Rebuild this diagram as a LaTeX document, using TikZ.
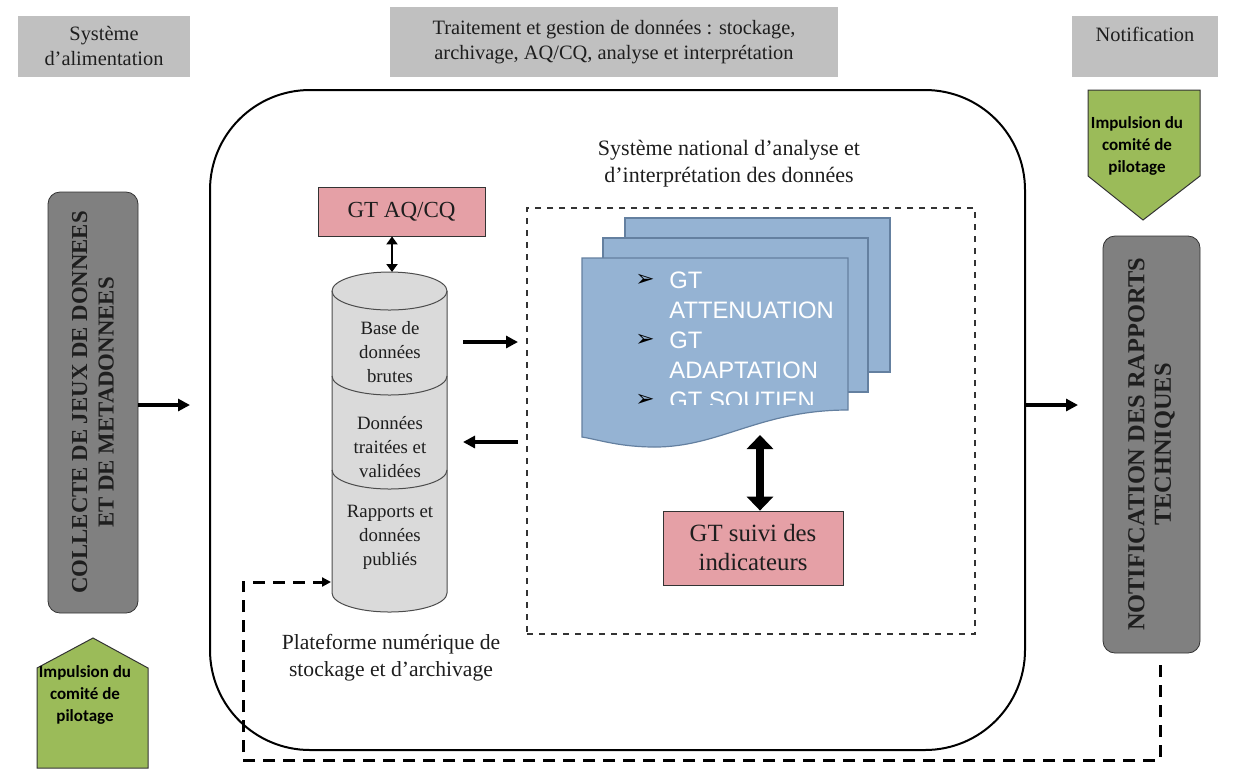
\documentclass[tikz,border=0pt]{standalone}
\usepackage{fontspec}
\setmainfont{Liberation Serif}
\newfontfamily\calibrifont{Carlito}
\newfontfamily\arialfont{Liberation Sans}
\newfontfamily\symbfont{DejaVu Sans}
\usetikzlibrary{arrows.meta}

\definecolor{headgray}{RGB}{192,192,192}
\definecolor{boxgray}{RGB}{128,128,128}
\definecolor{gtpink}{RGB}{229,160,166}
\definecolor{docblue}{RGB}{149,179,211}
\definecolor{docline}{RGB}{100,128,160}
\definecolor{pilotgreen}{RGB}{155,187,89}
\definecolor{cylgray}{RGB}{218,218,218}
\definecolor{inkgray}{RGB}{30,30,30}

\begin{document}
\begin{tikzpicture}[x=0.5pt,y=-0.5pt]
    \tikzset{header/.style = {fill=headgray, inner sep=0pt, align=center, text=inkgray, font=\fontsize{10.2}{12.5}\selectfont}}
    \tikzset{procbox/.style = {draw=black!80, fill=boxgray, rounded corners=6pt, rotate=90, align=center, inner sep=0pt, text=inkgray, font=\bfseries\fontsize{11.4}{13.2}\selectfont}}
    \tikzset{gtbox/.style = {draw=black!80, fill=gtpink, inner sep=0pt, align=center, text=inkgray, font=\fontsize{11.5}{14.5}\selectfont}}
    \tikzset{pilot/.style = {draw=black!80, fill=pilotgreen, line width=0.5pt}}
    \tikzset{pilottext/.style = {align=center, inner sep=0pt, font=\calibrifont\bfseries\fontsize{8.5}{10.9}\selectfont}}
    \tikzset{cyltext/.style = {align=center, inner sep=0pt, text=inkgray, font=\fontsize{9.4}{12}\selectfont}}
    \tikzset{docsheet/.style = {draw=docline, fill=docblue, line width=0.6pt}}
    \tikzset{bulletmark/.style = {inner sep=0pt, font=\symbfont\fontsize{11.5}{11.5}\selectfont}}
    \tikzset{edge/.style = {-{Triangle[length=6pt,width=6pt]}, line width=1.6pt}}
    \tikzset{dbl/.style = {{Triangle[length=4pt,width=5.5pt]}-{Triangle[length=4pt,width=5.5pt]}, line width=1.4pt}}
    \tikzset{bigdbl/.style = {{Triangle[length=7pt,width=13pt]}-{Triangle[length=7pt,width=13pt]}, line width=4pt}}
    \tikzset{dashret/.style = {-{Triangle[length=4.5pt,width=4.5pt]}, line width=1.5pt, dash pattern=on 6pt off 4pt}}

    \useasboundingbox (0,0) rectangle (1236,783);

    % bandeaux du haut
    \node[header, minimum width=86pt, minimum height=30.5pt] (alim) at (104,46.5) {Système\\d’alimentation};
    \node[header, minimum width=224pt, minimum height=35pt] (traitement) at (614,42) {Traitement et gestion de données : stockage,\\archivage, AQ/CQ, analyse et interprétation};
    \node[header, minimum width=73pt, minimum height=30.5pt] (notifhead) at (1145,46.5) {Notification\\\mbox{}};

    % plateforme centrale
    \node[draw, line width=1pt, rounded corners=50pt, minimum width=407.5pt, minimum height=330pt] (plateforme) at (617.5,420) {};

    % boites laterales
    \node[procbox, minimum width=210.5pt, minimum height=45pt] (collecte) at (93,402.5) {COLLECTE DE JEUX DE DONNEES\\ET DE METADONNEES};
    \node[procbox, font=\bfseries\fontsize{12.2}{13.2}\selectfont, minimum width=208.5pt, minimum height=48.5pt] (notif) at (1151.5,444.5) {NOTIFICATION DES RAPPORTS\\TECHNIQUES};

    % impulsions du comite
    \draw[pilot] (37,668) -- (93,638) -- (148,668) -- (148,768) -- (37,768) -- cycle;
    \node[pilottext] (pilotL) at (85,695) {Impulsion du\\comité de\\pilotage};
    \draw[pilot] (1088,90) -- (1200,90) -- (1200,176) -- (1143,220) -- (1088,176) -- cycle;
    \node[pilottext] (pilotR) at (1137,146) {Impulsion du\\comité de\\pilotage};

    % base de donnees
    \filldraw[fill=cylgray, draw=black!70, line width=0.5pt] (332,291) -- (332,593) arc (180:0:57.5 and 19) -- (447,291) arc (0:-180:57.5 and 19) -- cycle;
    \draw[black!70, line width=0.5pt] (332,291) arc (180:0:57.5 and 19);
    \draw[black!70, line width=0.5pt] (332,376) arc (180:0:57.5 and 19);
    \draw[black!70, line width=0.5pt] (332,470) arc (180:0:57.5 and 19);
    \node[cyltext] (brutes) at (390,352) {Base de\\données\\brutes};
    \node[cyltext] (validees) at (390,447) {Données\\traitées et\\validées};
    \node[cyltext] (publies) at (390,537) {Rapports et\\données\\publiés};
    \node[align=center, inner sep=0pt, text=inkgray, font=\fontsize{10.8}{13.5}\selectfont] (stockage) at (391,658) {Plateforme numérique de\\stockage et d’archivage};

    \node[gtbox, minimum width=83.5pt, minimum height=24.5pt] (aqcq) at (401.5,211.5) {GT AQ/CQ};

    % systeme national
    \node[draw=black!80, dashed, line width=0.7pt, minimum width=224pt, minimum height=213pt] (sna) at (751,421) {};
    \node[align=center, inner sep=0pt, text=inkgray, font=\fontsize{11}{13.5}\selectfont] (snatitle) at (729,164) {Système national d’analyse et\\d’interprétation des données};

    \filldraw[docsheet] (625,218) rectangle (890,372);
    \filldraw[docsheet] (603,238) rectangle (868,392);
    \filldraw[docsheet] (582,258) -- (848,258) -- (848,410) .. controls (760,410) and (720,447) .. (655,447) .. controls (620,447) and (600,440) .. (582,437) -- cycle;
    \begin{scope}
      \clip (582,258) rectangle (848,404);
      \node[anchor=north west, align=left, inner sep=0pt, text=white, font=\arialfont\fontsize{11.9}{15}\selectfont] (gtlist) at (669,271) {GT\\ATTENUATION\\GT\\ADAPTATION\\GT SOUTIEN};
      \foreach \y in {280,340,400}
        \node[bulletmark] (bullet\y) at (645,\y) {➢};
    \end{scope}

    \node[gtbox, font=\fontsize{12.4}{14.5}\selectfont, minimum width=90pt, minimum height=37pt] (suivi) at (753,548) {GT suivi des\\indicateurs};

    % liaisons
    \coordinate (collin) at (190,405);
    \coordinate (notifin) at (1078,405);
    \coordinate (cyltop) at (392,272);
    \coordinate (brutesout) at (463,342);
    \coordinate (snain) at (518,342);
    \coordinate (snaout) at (518,442);
    \coordinate (valideesin) at (463,442);
    \coordinate (docbot) at (760,435);
    \coordinate (retstart) at (1160,665);
    \coordinate (retcorner) at (243,760);
    \coordinate (cylin) at (331,582);

    \draw[edge] (collecte.south |- collin) -- (collin);
    \draw[edge] (plateforme.east |- notifin) -- (notifin);
    \draw[edge] (brutesout) -- (snain);
    \draw[edge] (snaout) -- (valideesin);
    \draw[dbl] (aqcq.south -| cyltop) -- (cyltop);
    \draw[bigdbl] (docbot) -- (suivi.north -| docbot);
    \draw[dashret] (retstart) |- (retcorner) |- (cylin);
\end{tikzpicture}
\end{document}
